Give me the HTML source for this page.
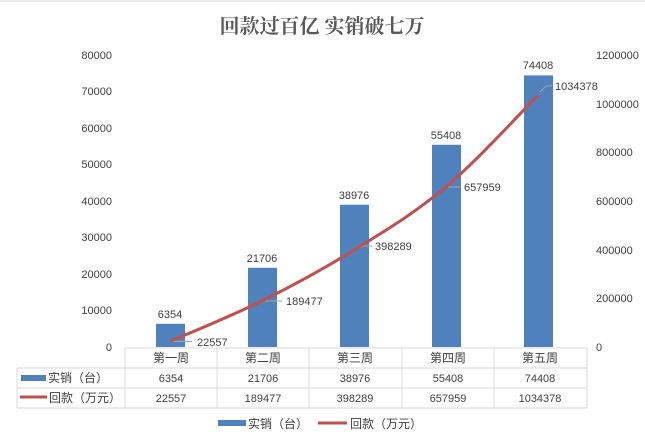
<!DOCTYPE html>
<html><head><meta charset="utf-8"><style>
body{margin:0;background:#fff}
svg text{font-family:"Liberation Sans","Noto Sans CJK SC",sans-serif;fill:#404040;font-size:11px}
</style></head><body>
<svg width="645" height="437" viewBox="0 0 645 437" xmlns="http://www.w3.org/2000/svg">
<rect width="645" height="437" fill="#fff"/>
<line x1="0" y1="1" x2="645" y2="1" stroke="#d9d9d9"/>
<text x="322" y="33" text-anchor="middle" style="font-size:20px;font-weight:bold;fill:#595959;font-family:'Noto Serif CJK SC','Noto Sans CJK SC',serif">回款过百亿 实销破七万</text>
<g text-anchor="end">
<text x="112" y="351">0</text><text x="112" y="314">10000</text><text x="112" y="278">20000</text><text x="112" y="241">30000</text><text x="112" y="205">40000</text><text x="112" y="168">50000</text><text x="112" y="132">60000</text><text x="112" y="95">70000</text><text x="112" y="59">80000</text>
</g>
<g>
<text x="596" y="351">0</text><text x="596" y="302">200000</text><text x="596" y="254">400000</text><text x="596" y="205">600000</text><text x="596" y="156">800000</text><text x="596" y="108">1000000</text><text x="596" y="59">1200000</text>
</g>
<g fill="#4f81bd">
<rect x="156" y="323.8" width="29" height="23.2"/>
<rect x="248" y="267.8" width="29" height="79.2"/>
<rect x="340" y="204.7" width="29" height="142.3"/>
<rect x="432" y="144.8" width="29" height="202.2"/>
<rect x="524" y="75.4" width="29" height="271.6"/>
</g>
<g text-anchor="middle">
<text x="170" y="318">6354</text><text x="262" y="262">21706</text><text x="354" y="199">38976</text><text x="446" y="139">55408</text><text x="538" y="69">74408</text>
</g>
<g stroke="#a6a6a6" stroke-width="1" fill="none">
<line x1="172" y1="341.5" x2="192" y2="341.5"/>
<line x1="264" y1="301" x2="282" y2="301"/>
<polyline points="355,250 364,246 372,246"/>
<line x1="448" y1="187" x2="460" y2="187"/>
<polyline points="540,92 546,86 552,86"/>
</g>
<path d="M170,341.5 C185.3,334.7 231.3,316.1 262,300.9 C292.7,285.7 323.3,269.1 354,250.1 C384.7,231.1 415.3,212.7 446,186.9 C476.7,161.1 522.7,110.6 538,95.3" fill="none" stroke="#c0504d" stroke-width="3" stroke-linejoin="round"/>
<text x="197" y="346">22557</text><text x="286" y="305">189477</text><text x="375" y="250">398289</text><text x="464" y="191">657959</text><text x="555" y="90">1034378</text>
<g stroke="#d9d9d9" stroke-width="1">
<line x1="125" y1="348" x2="587" y2="348"/>
<line x1="17" y1="368" x2="587" y2="368"/>
<line x1="17" y1="388" x2="587" y2="388"/>
<line x1="17" y1="408" x2="587" y2="408"/>
<line x1="17" y1="368" x2="17" y2="408"/>
<line x1="125" y1="348" x2="125" y2="408"/>
<line x1="217" y1="348" x2="217" y2="408"/>
<line x1="309" y1="348" x2="309" y2="408"/>
<line x1="402" y1="348" x2="402" y2="408"/>
<line x1="494" y1="348" x2="494" y2="408"/>
<line x1="587" y1="348" x2="587" y2="408"/>
</g>
<g text-anchor="middle">
<text x="171" y="362" style="font-size:12px">第一周</text><text x="263" y="362" style="font-size:12px">第二周</text><text x="355" y="362" style="font-size:12px">第三周</text><text x="448" y="362" style="font-size:12px">第四周</text><text x="540" y="362" style="font-size:12px">第五周</text>
<text x="171" y="382">6354</text><text x="263" y="382">21706</text><text x="355" y="382">38976</text><text x="448" y="382">55408</text><text x="540" y="382">74408</text>
<text x="171" y="402">22557</text><text x="263" y="402">189477</text><text x="355" y="402">398289</text><text x="448" y="402">657959</text><text x="540" y="402">1034378</text>
</g>
<rect x="21" y="375" width="25" height="6" fill="#4f81bd"/>
<text x="48" y="382" style="font-size:12px">实销（台）</text>
<line x1="20" y1="397" x2="47" y2="397" stroke="#c0504d" stroke-width="3"/>
<text x="49" y="402" style="font-size:12px">回款（万元）</text>
<rect x="218" y="420" width="28" height="6" fill="#4f81bd"/>
<text x="248" y="428" style="font-size:12px">实销（台）</text>
<line x1="318" y1="423" x2="347" y2="423" stroke="#c0504d" stroke-width="3"/>
<text x="350" y="428" style="font-size:12px">回款（万元）</text>
</svg>
</body></html>
